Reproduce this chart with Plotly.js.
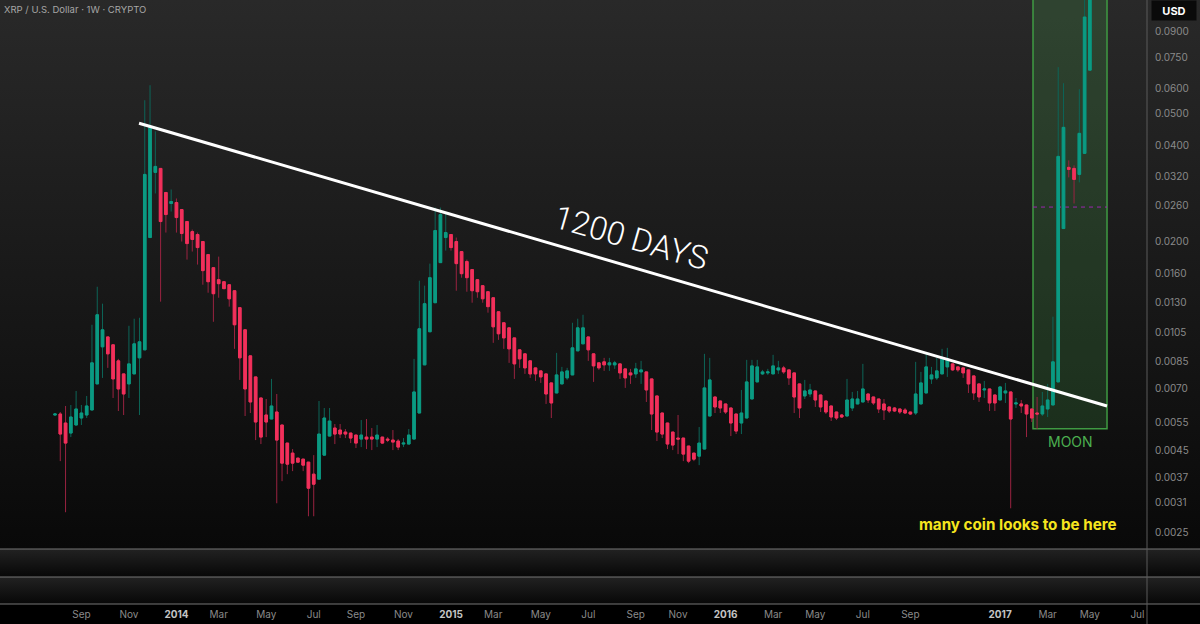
<!DOCTYPE html>
<html>
<head>
<meta charset="utf-8">
<script src="https://cdn.plot.ly/plotly-3.0.1.min.js"></script>
<style>
html,body{margin:0;padding:0;background:#000;}
#wrap{position:relative;width:1200px;height:624px;overflow:hidden;
background:linear-gradient(to bottom,#292929 0px,#090909 549px,#222222 549px,#070707 577px,#222222 577px,#070707 604px,#000000 604px,#000000 624px);}
#chart{position:absolute;left:0;top:0;width:1200px;height:624px;}
</style>
</head>
<body>
<div id="wrap"><div id="chart"></div></div>
<script>
// ---- data (weekly XRP / USD candles) ----
const WEEK_START = '2013-07-29';

const OPEN = [
0.005801,0.005843,0.005478,0.005099,0.005400,0.005678,0.005801,0.006013,0.007246,0.009446,
0.01014,0.009582,0.008544,0.007784,0.007246,0.007784,0.008730,0.009245,0.02064,0.03289,
0.03384,0.02849,0.02633,0.02652,0.02522,0.02314,0.02154,0.02109,0.02006,0.01827,
0.01664,0.01527,0.01505,0.01473,0.01411,0.01250,0.01067,0.008856,0.007618,0.006553,
0.005801,0.005637,0.005927,0.005400,0.004746,0.004417,0.004262,0.004231,0.004141,0.003800,
0.003667,0.004354,0.004990,0.005285,0.005210,0.005135,0.005099,0.005026,0.004884,0.004954,
0.004954,0.004884,0.004954,0.004884,0.004849,0.004815,0.004713,0.004713,0.004884,0.005885,
0.008303,0.01052,0.01295,0.01725,0.02064,0.02109,0.02006,0.01867,0.01738,0.01641,
0.01527,0.01463,0.01401,0.01342,0.01214,0.01122,0.01082,0.01007,0.009245,0.008984,
0.008544,0.008126,0.007953,0.007784,0.007298,0.006792,0.007246,0.007564,0.007728,0.009179,
0.009651,0.01014,0.008984,0.008423,0.008483,0.008303,0.008303,0.008362,0.008068,0.007840,
0.007784,0.007896,0.007896,0.007510,0.006648,0.005885,0.005478,0.005135,0.004919,0.004919,
0.004646,0.004417,0.004323,0.004547,0.005760,0.006600,0.006414,0.006278,0.006100,0.005843,
0.005478,0.005678,0.006506,0.007350,0.007784,0.007840,0.007784,0.008010,0.008126,0.008010,
0.007840,0.007246,0.006648,0.006743,0.006890,0.006695,0.006414,0.006188,0.005927,0.005801,
0.005760,0.006100,0.006278,0.006368,0.006743,0.006600,0.006506,0.006278,0.006144,0.006100,
0.006057,0.006013,0.005927,0.005885,0.006278,0.006792,0.007510,0.007564,0.007784,0.008184,
0.008362,0.008184,0.008126,0.008010,0.007673,0.007246,0.006940,0.006990,0.006695,0.006460,
0.006792,0.006841,0.006278,0.006278,0.006233,0.006057,0.005885,0.005843,0.006057,0.006233,
0.007350,0.02201,0.03409,0.03384,0.03242,0.03768,0.06832
];

const HIGH = [
0.005885,0.005927,0.006188,0.006233,0.006890,0.006233,0.006648,0.01106,0.01452,0.01286,
0.01014,0.009582,0.008668,0.007784,0.01098,0.01155,0.01163,0.05510,0.06136,0.04412,
0.03384,0.02849,0.02911,0.02729,0.02522,0.02314,0.02185,0.02139,0.02006,0.01827,
0.01664,0.01801,0.01505,0.01473,0.01411,0.01250,0.01067,0.008856,0.007618,0.006553,
0.006506,0.007510,0.006743,0.005400,0.004746,0.004547,0.004262,0.004231,0.004141,0.004354,
0.006414,0.006100,0.006100,0.005439,0.005439,0.005247,0.005099,0.005026,0.005597,0.005637,
0.005285,0.005400,0.004954,0.004954,0.005210,0.004884,0.004919,0.005247,0.008668,0.01516,
0.01463,0.01713,0.02558,0.02558,0.02451,0.02109,0.02064,0.01867,0.01763,0.01641,
0.01527,0.01463,0.01401,0.01342,0.01214,0.01122,0.01082,0.01007,0.009245,0.008984,
0.008544,0.008126,0.007953,0.007784,0.007298,0.009048,0.008184,0.008126,0.01122,0.01155,
0.01188,0.01014,0.008984,0.008423,0.008730,0.008730,0.008544,0.008362,0.008068,0.008068,
0.008423,0.008544,0.007896,0.007510,0.006648,0.005885,0.005478,0.005135,0.005801,0.004919,
0.004646,0.004417,0.005323,0.008984,0.008730,0.006600,0.006414,0.006278,0.006100,0.005843,
0.006940,0.008606,0.008606,0.008606,0.008010,0.008068,0.008920,0.008544,0.008243,0.008010,
0.007840,0.007246,0.007456,0.007246,0.006890,0.006695,0.006414,0.006188,0.005927,0.005843,
0.007510,0.006841,0.006890,0.008362,0.006743,0.006600,0.006506,0.006506,0.006144,0.006144,
0.006057,0.006100,0.005927,0.008483,0.007896,0.008984,0.008184,0.008730,0.009311,0.009378,
0.008362,0.008184,0.008126,0.008010,0.007673,0.007246,0.007403,0.006990,0.006695,0.007142,
0.007298,0.006841,0.006553,0.006460,0.006233,0.006057,0.006600,0.006841,0.007246,0.01172,
0.06981,0.06225,0.03584,0.03458,0.05963,0.1170,0.1735
];

const LOW = [
0.005760,0.004171,0.002894,0.004954,0.005400,0.005400,0.005678,0.006013,0.007246,0.007564,
0.008126,0.006553,0.005970,0.005801,0.006553,0.007784,0.005801,0.009245,0.02064,0.02829,
0.01305,0.02139,0.02486,0.02139,0.02006,0.01763,0.01867,0.01701,0.01473,0.01391,
0.01130,0.01342,0.01432,0.01259,0.009311,0.007456,0.005760,0.005885,0.004849,0.004713,
0.004954,0.005637,0.003086,0.003614,0.003800,0.003883,0.004141,0.003883,0.002812,0.002812,
0.003667,0.004354,0.004990,0.004713,0.004919,0.004919,0.004746,0.004580,0.004612,0.004547,
0.004514,0.004612,0.004713,0.004780,0.004514,0.004514,0.004612,0.004713,0.004884,0.005885,
0.008303,0.01052,0.01295,0.01725,0.01880,0.01880,0.01411,0.01549,0.01401,0.01295,
0.01342,0.01295,0.01206,0.009721,0.009929,0.009311,0.008423,0.007510,0.008126,0.007784,
0.007564,0.007403,0.007298,0.006278,0.005678,0.006792,0.007246,0.007456,0.007728,0.009179,
0.009651,0.008544,0.007350,0.008010,0.007953,0.007953,0.008068,0.007510,0.007041,0.007246,
0.007564,0.007246,0.006368,0.005210,0.004815,0.004919,0.004547,0.004514,0.004386,0.004171,
0.004112,0.004171,0.004053,0.004547,0.005760,0.005885,0.005885,0.005843,0.004990,0.005062,
0.005062,0.005678,0.006506,0.007350,0.007728,0.007728,0.007784,0.007784,0.007784,0.007194,
0.005885,0.005678,0.006506,0.006600,0.006144,0.005927,0.005843,0.005557,0.005597,0.005678,
0.005760,0.005970,0.006278,0.006368,0.006323,0.006233,0.005885,0.005597,0.005885,0.005927,
0.005843,0.005843,0.005801,0.005801,0.006278,0.006792,0.007246,0.007456,0.007784,0.007618,
0.007953,0.007896,0.007564,0.006792,0.006460,0.006368,0.006553,0.005970,0.005970,0.006460,
0.006323,0.002977,0.006100,0.005885,0.004954,0.005517,0.005247,0.005760,0.005719,0.006233,
0.007350,0.02201,0.03173,0.02633,0.03061,0.03768,0.06832
];

const CLOSE = [
0.005843,0.005062,0.004746,0.005719,0.006057,0.005885,0.006188,0.008423,0.01188,0.01067,
0.008984,0.007510,0.006990,0.006743,0.008362,0.009651,0.009791,0.03242,0.04540,0.03433,
0.02314,0.02433,0.02671,0.02381,0.02124,0.01977,0.02035,0.01921,0.01629,0.01505,
0.01381,0.01484,0.01432,0.01332,0.01106,0.008730,0.006990,0.006368,0.005517,0.004954,
0.005517,0.006188,0.004849,0.004112,0.004082,0.004112,0.004141,0.004053,0.003437,0.003537,
0.005062,0.005678,0.005557,0.005062,0.005062,0.005062,0.004919,0.004746,0.005026,0.004884,
0.004884,0.005026,0.004746,0.004849,0.004780,0.004612,0.004746,0.005026,0.006841,0.01075,
0.01286,0.01549,0.02170,0.02433,0.02139,0.01921,0.01713,0.01594,0.01549,0.01411,
0.01401,0.01332,0.01259,0.01090,0.01037,0.01007,0.009311,0.008362,0.008668,0.008126,
0.007784,0.007784,0.007618,0.006743,0.006323,0.007728,0.007896,0.007953,0.009378,0.01082,
0.01082,0.009245,0.008243,0.008126,0.008303,0.008423,0.008423,0.007840,0.007564,0.007728,
0.008068,0.008010,0.006940,0.005843,0.005135,0.005062,0.004713,0.004679,0.004884,0.004386,
0.004171,0.004231,0.004746,0.007041,0.007456,0.006144,0.006100,0.005927,0.005478,0.005172,
0.005885,0.007350,0.008243,0.008184,0.007896,0.007896,0.008243,0.008126,0.007896,0.007564,
0.006600,0.006100,0.006890,0.006940,0.006460,0.006144,0.005927,0.005719,0.005678,0.005719,
0.006460,0.006506,0.006506,0.006990,0.006460,0.006323,0.006057,0.006013,0.005970,0.005970,
0.005927,0.005885,0.005843,0.006743,0.007298,0.008184,0.007728,0.007953,0.008668,0.008668,
0.008010,0.008010,0.007840,0.007246,0.006792,0.006600,0.006990,0.006323,0.006323,0.007091,
0.006890,0.005637,0.006323,0.006188,0.005843,0.005678,0.005843,0.006188,0.006460,0.008483,
0.03688,0.04540,0.03360,0.03128,0.04349,0.09991,0.1503
];

const Y_TICKS = [0.09,0.075,0.06,0.05,0.04,0.032,0.026,0.02,0.016,0.013,0.0105,0.0085,0.007,0.0055,0.0045,0.0037,0.0031,0.0025];
const Y_TICK_TEXT = ['0.0900','0.0750','0.0600','0.0500','0.0400','0.0320','0.0260','0.0200','0.0160','0.0130','0.0105','0.0085','0.0070','0.0055','0.0045','0.0037','0.0031','0.0025'];

const X_TICK_DATES = ['2013-09-02','2013-11-04','2014-01-06','2014-03-03','2014-05-05','2014-07-07','2014-09-01','2014-11-03',
  '2015-01-05','2015-03-02','2015-05-04','2015-07-06','2015-09-07','2015-11-02','2016-01-04','2016-03-07','2016-05-02',
  '2016-07-04','2016-09-05','2017-01-02','2017-03-06','2017-05-01','2017-07-03'];
const X_TICK_LABELS = ['Sep','Nov','2014','Mar','May','Jul','Sep','Nov','2015','Mar','May','Jul','Sep','Nov','2016',
  'Mar','May','Jul','Sep','2017','Mar','May','Jul'];

// drawn objects (date, price)
const TREND_X = ['2013-11-17 10:00','2017-05-23 17:00'];
const TREND_Y = [0.04675, 0.006188];
const ZONE_X = ['2017-02-14 14:00','2017-05-23 17:00'];
const ZONE_Y = [0.005254, 0.1253];
const ZONE_MID = 0.02567;

const X_RANGE = ['2013-05-17 02:00','2017-07-15 17:00'];
const Y_RANGE = [0.002225, 0.11286];

// ---- build ----
const t0 = Date.parse(WEEK_START + 'T00:00:00Z');
const DATES = OPEN.map((_, i) => new Date(t0 + i * 7 * 86400000).toISOString().slice(0, 10));
const BODY_HI = OPEN.map((o, i) => Math.max(o, CLOSE[i]));
const BODY_LO = OPEN.map((o, i) => Math.min(o, CLOSE[i]));

const UP = '#0b9a82', UP_WICK = '#0d6558';
const DN = '#f2305b', DN_WICK = '#9a2340';

const wicks = {
  type: 'candlestick', x: DATES, open: OPEN, high: HIGH, low: LOW, close: CLOSE,
  increasing: {line: {color: UP_WICK, width: 1}, fillcolor: UP_WICK},
  decreasing: {line: {color: DN_WICK, width: 1}, fillcolor: DN_WICK},
  whiskerwidth: 0, hoverinfo: 'skip', showlegend: false
};
const bodies = {
  type: 'candlestick', x: DATES, open: OPEN, high: BODY_HI, low: BODY_LO, close: CLOSE,
  increasing: {line: {color: UP, width: 1}, fillcolor: UP},
  decreasing: {line: {color: DN, width: 1}, fillcolor: DN},
  whiskerwidth: 0, hoverinfo: 'skip', showlegend: false
};

const PW = 1147, PH = 604;           // plot area in pixels
const PX = p => p / PW;
const PY = p => (PH - p) / PH;

const layout = {
  width: 1200, height: 624,
  margin: {l: 0, r: 53, t: 0, b: 20, pad: 0},
  paper_bgcolor: 'rgba(0,0,0,0)', plot_bgcolor: 'rgba(0,0,0,0)',
  showlegend: false, hovermode: false, dragmode: false,
  boxgap: 0.3,
  font: {family: 'Inter, Roboto, "Liberation Sans", sans-serif', color: '#8a8a8a', size: 10},
  xaxis: {
    type: 'date', range: X_RANGE, rangeslider: {visible: false},
    showgrid: false, zeroline: false, showline: false, ticks: '',
    tickvals: X_TICK_DATES,
    ticktext: X_TICK_LABELS.map(t => /^\d{4}$/.test(t) ? '<b><span style="color:#c4c4c4">' + t + '</span></b>' : t),
    tickfont: {size: 10, color: '#8a8a8a'},
    anchor: 'free', position: 0, automargin: false, ticklabelstandoff: 3, fixedrange: true
  },
  yaxis: {
    type: 'log', range: [Math.log10(Y_RANGE[0]), Math.log10(Y_RANGE[1])],
    side: 'right', domain: [55 / PH, 1],
    showgrid: false, zeroline: false, showline: false, ticks: '',
    tickvals: Y_TICKS, ticktext: Y_TICK_TEXT,
    tickfont: {size: 10, color: '#8a8a8a'},
    automargin: false, ticklabelstandoff: 7, fixedrange: true
  },
  shapes: [
    {type: 'rect', xref: 'x', yref: 'y', x0: ZONE_X[0], x1: ZONE_X[1], y0: ZONE_Y[0], y1: ZONE_Y[1],
     fillcolor: 'rgba(76,175,80,0.20)', line: {color: '#3f9b43', width: 1.5}, layer: 'below'},
    {type: 'line', xref: 'x', yref: 'y', x0: ZONE_X[0], x1: ZONE_X[1], y0: ZONE_MID, y1: ZONE_MID,
     line: {color: '#9c27b0', width: 1, dash: '4px,4px'}, layer: 'below'},
    {type: 'line', xref: 'x', yref: 'y', x0: TREND_X[0], x1: TREND_X[1], y0: TREND_Y[0], y1: TREND_Y[1],
     line: {color: '#ffffff', width: 3}},
    // pane separators and price-scale border
    {type: 'line', xref: 'paper', yref: 'paper', x0: 0, x1: 1200 / PW, y0: PY(549), y1: PY(549), line: {color: '#767676', width: 1}},
    {type: 'line', xref: 'paper', yref: 'paper', x0: 0, x1: 1200 / PW, y0: PY(577), y1: PY(577), line: {color: '#767676', width: 1}},
    {type: 'line', xref: 'paper', yref: 'paper', x0: 0, x1: 1200 / PW, y0: PY(604), y1: PY(604), line: {color: '#767676', width: 1}},
    {type: 'line', xref: 'paper', yref: 'paper', x0: 1, x1: 1, y0: PY(624), y1: 1, line: {color: '#5a5a5a', width: 1}}
  ],
  annotations: [
    {xref: 'paper', yref: 'paper', x: PX(2), y: PY(9), xanchor: 'left', yanchor: 'middle', showarrow: false,
     text: 'XRP / U.S. Dollar · 1W · CRYPTO', font: {size: 9.5, color: '#a6a6a6'}},
    {xref: 'paper', yref: 'paper', x: PX(1173.5), y: PY(10.5), xanchor: 'center', yanchor: 'middle', showarrow: false,
     text: '<b>USD</b>', font: {size: 11, color: '#ffffff'}, bgcolor: '#0a0a0a', width: 42, height: 17},
    {xref: 'paper', yref: 'paper', x: PX(631), y: PY(238), xanchor: 'center', yanchor: 'middle', showarrow: false,
     text: '1200 DAYS', textangle: 16, font: {family: 'Roboto, Inter, sans-serif', size: 32.5, color: '#ffffff', weight: 300}},
    {xref: 'paper', yref: 'paper', x: PX(1070), y: PY(441), xanchor: 'center', yanchor: 'middle', showarrow: false,
     text: 'MOON', font: {size: 14, color: '#4caf50'}},
    {xref: 'paper', yref: 'paper', x: PX(1018), y: PY(524), xanchor: 'center', yanchor: 'middle', showarrow: false,
     text: '<b>many coin looks to be here</b>', font: {family: 'Inter, Roboto, sans-serif', size: 15.2, color: '#f6e51e'}}
  ]
};

Plotly.newPlot('chart', [wicks, bodies], layout, {staticPlot: true, displayModeBar: false, responsive: false});
</script>
</body>
</html>
